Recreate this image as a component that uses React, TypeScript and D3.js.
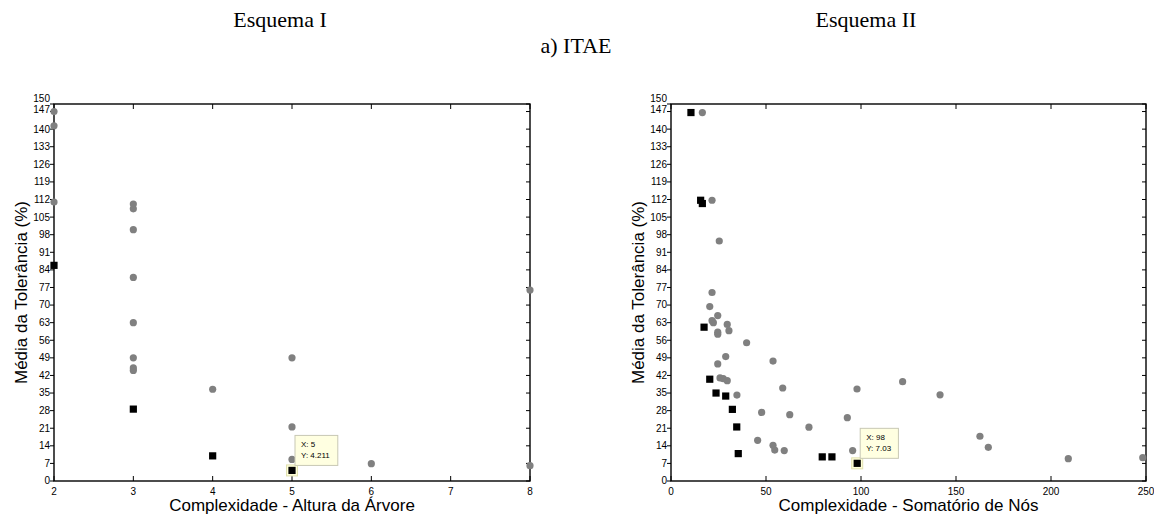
import React, { useEffect } from 'react';
import * as d3 from 'd3';

// Esquema I: complexidade = altura da arvore
const esq1GrayX = [2, 2, 2, 3, 3, 3, 3, 3, 3, 3, 3, 4, 5, 5, 5, 6, 8, 8];
const esq1GrayY = [147, 141.3, 111, 110.2, 108.3, 100, 81, 63, 49, 45, 44, 36.5, 49, 21.5, 8.6, 6.9, 76, 6.1];
const esq1BlackX = [2, 3, 4, 5];
const esq1BlackY = [85.8, 28.6, 10, 4.211];
const esq1Ticks = [2, 3, 4, 5, 6, 7, 8];

// Esquema II: complexidade = somatorio de nos
const esq2GrayX = [16.5, 21.6, 25.4, 21.6, 20.4, 24.6, 21.6, 22.3, 29.6, 24.6, 24.6, 30.5, 39.8, 53.7, 28.8, 24.6,
  25.8, 27.5, 29.6, 58.8, 97.9, 121.9, 34.7, 47.7, 62.5, 92.8, 72.6, 45.6, 53.7, 54.6, 59.6, 95.6,
  141.6, 162.6, 167, 209.1, 248.3];
const esq2GrayY = [146.6, 111.7, 95.5, 75, 69.4, 65.8, 63.8, 63, 62.3, 59.2, 58.4, 59.8, 55, 47.7, 49.5, 46.6,
  41, 40.7, 39.9, 37, 36.6, 39.5, 34.2, 27.3, 26.4, 25.2, 21.4, 16.2, 14.2, 12.3, 12.1, 12.1,
  34.3, 17.8, 13.4, 8.9, 9.3];
const esq2BlackX = [10.5, 15.6, 16.5, 17.4, 20.4, 23.7, 28.8, 32.3, 34.6, 35.4, 79.6, 84.7, 98];
const esq2BlackY = [146.6, 111.7, 110.4, 61.2, 40.5, 35, 33.8, 28.5, 21.5, 10.9, 9.6, 9.6, 7.03];
const esq2Ticks = [0, 50, 100, 150, 200, 250];

const yTicks = [0, 7, 14, 21, 28, 35, 42, 49, 56, 63, 70, 77, 84, 91, 98, 105, 112, 119, 126, 133, 140, 147, 150];

const TOP = 104;
const BOTTOM = 481;
const axisFont = 'Arial, "Liberation Sans", sans-serif';
const serif = '"Times New Roman", "Liberation Serif", serif';

function Panel({ left, right, domain, xTicks, grayX, grayY, blackX, blackY, tip, tipLabel, xLabel }) {
  const x = d3.scaleLinear().domain(domain).range([left, right]);
  const y = d3.scaleLinear().domain([0, 150]).range([BOTTOM, TOP]);
  const tx = x(blackX[tip]);
  const ty = y(blackY[tip]);
  const boxW = tipLabel[1].length * 4.6 + 6;
  return (
    <g>
      {yTicks.map(t => (
        <g key={'y' + t}>
          <line x1={left - 4} x2={left} y1={y(t)} y2={y(t)} stroke="#000" />
          <line x1={right - 4} x2={right} y1={y(t)} y2={y(t)} stroke="#000" />
          <text x={left - 4} y={y(t) + (t === 147 ? 1 : t === 150 ? -2 : 3.4)} textAnchor="end"
            fontSize={10} fontFamily={axisFont}>{t}</text>
        </g>
      ))}
      {xTicks.map(t => (
        <g key={'x' + t}>
          <line x1={x(t)} x2={x(t)} y1={BOTTOM} y2={BOTTOM - 5} stroke="#000" />
          <line x1={x(t)} x2={x(t)} y1={TOP} y2={TOP + 5} stroke="#000" />
          <text x={x(t)} y={BOTTOM + 14} textAnchor="middle" fontSize={10} fontFamily={axisFont}>{t}</text>
        </g>
      ))}
      <rect x={left} y={TOP} width={right - left} height={BOTTOM - TOP} fill="none" stroke="#000" strokeWidth={1.4} />
      {grayX.map((v, i) => (
        <circle key={'g' + i} cx={x(v)} cy={y(grayY[i])} r={3.6} fill="#808080" />
      ))}
      <rect x={tx - 5.5} y={ty - 5.5} width={11} height={11} fill="#ffffd8" stroke="#e0e0b0" />
      {blackX.map((v, i) => (
        <rect key={'b' + i} x={x(v) - 3.6} y={y(blackY[i]) - 3.6} width={7.2} height={7.2} fill="#000" />
      ))}
      <g transform={`translate(${tx + 3},${ty - 35})`}>
        <rect width={boxW} height={30} fill="#ffffe1" stroke="#c8c8b4" />
        <text x={6} y={12} fontSize={8} fontFamily={axisFont}>{tipLabel[0]}</text>
        <text x={6} y={23} fontSize={8} fontFamily={axisFont}>{tipLabel[1]}</text>
      </g>
      <text x={(left + right) / 2} y={511} textAnchor="middle" fontSize={17} fontFamily={axisFont}>{xLabel}</text>
      <text transform={`translate(${left - 27},${(TOP + BOTTOM) / 2}) rotate(-90)`} textAnchor="middle"
        fontSize={17} fontFamily={axisFont}>Média da Tolerância (%)</text>
    </g>
  );
}

export default function App() {
  useEffect(() => {
    document.body.style.margin = '0';
  }, []);
  return (
    <svg width={1154} height={515} style={{ display: 'block', background: '#fff' }}>
      <text x={280} y={27} textAnchor="middle" fontSize={22} fontFamily={serif}>Esquema I</text>
      <text x={866} y={27} textAnchor="middle" fontSize={22} fontFamily={serif}>Esquema II</text>
      <text x={576} y={53} textAnchor="middle" fontSize={22} fontFamily={serif}>a) ITAE</text>
      <Panel left={54} right={530} domain={[2, 8]} xTicks={esq1Ticks}
        grayX={esq1GrayX} grayY={esq1GrayY} blackX={esq1BlackX} blackY={esq1BlackY}
        tip={3} tipLabel={['X: 5', 'Y: 4.211']} xLabel="Complexidade - Altura da Árvore" />
      <Panel left={671} right={1146} domain={[0, 250]} xTicks={esq2Ticks}
        grayX={esq2GrayX} grayY={esq2GrayY} blackX={esq2BlackX} blackY={esq2BlackY}
        tip={12} tipLabel={['X: 98', 'Y: 7.03']} xLabel="Complexidade - Somatório de Nós" />
    </svg>
  );
}
